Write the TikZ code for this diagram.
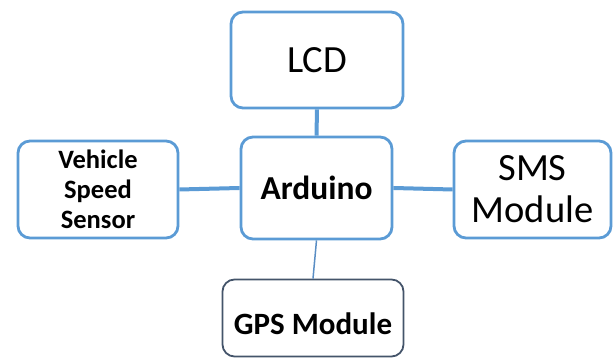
\documentclass[tikz,border=0pt]{standalone}
\usepackage{fontspec}
\setmainfont{Carlito}
\definecolor{boxblue}{HTML}{5B9BD5}
\definecolor{gpsgrey}{HTML}{44546A}
\definecolor{wireblue}{HTML}{5A8EC4}
\begin{document}
\begin{tikzpicture}[x=1pt, y=1pt]
\tikzset{blok/.style={draw=boxblue, line width=2.8pt, rounded corners=12pt, align=center, inner sep=0pt},
  wire/.style={draw=boxblue, line width=4pt}}
\useasboundingbox (0, 0) rectangle (614, 358);
\node[blok, minimum width=172pt, minimum height=96pt, font=\fontsize{38.5}{44}\selectfont] (LCD) at (317, 298) {LCD};
\node[blok, minimum width=151pt, minimum height=102pt, font=\fontsize{33.5}{38}\selectfont\bfseries] (ARD) at (316.5, 170) {Arduino};
\node[blok, minimum width=160pt, minimum height=97pt, font=\fontsize{26.5}{30}\selectfont\bfseries] (VSS) at (98, 168.5) {Vehicle\\Speed\\Sensor};
\node[blok, minimum width=157pt, minimum height=97pt, font=\fontsize{38.5}{42}\selectfont] (SMS) at (532.5, 168.5) {SMS\\Module};
\node[blok, draw=gpsgrey, line width=1.8pt, minimum width=181pt, minimum height=77pt, text height=40pt, text depth=6pt, font=\fontsize{31}{36}\selectfont\bfseries] (GPS) at (313, 40) {GPS Module};
\draw[wire] (LCD.south) -- (ARD.north);
\draw[wire] (VSS.east) -- (ARD.west);
\draw[wire] (ARD.east) -- (SMS.west);
\draw[draw=wireblue, line width=1.5pt] (ARD.south) -- (GPS.north);
\end{tikzpicture}
\end{document}
